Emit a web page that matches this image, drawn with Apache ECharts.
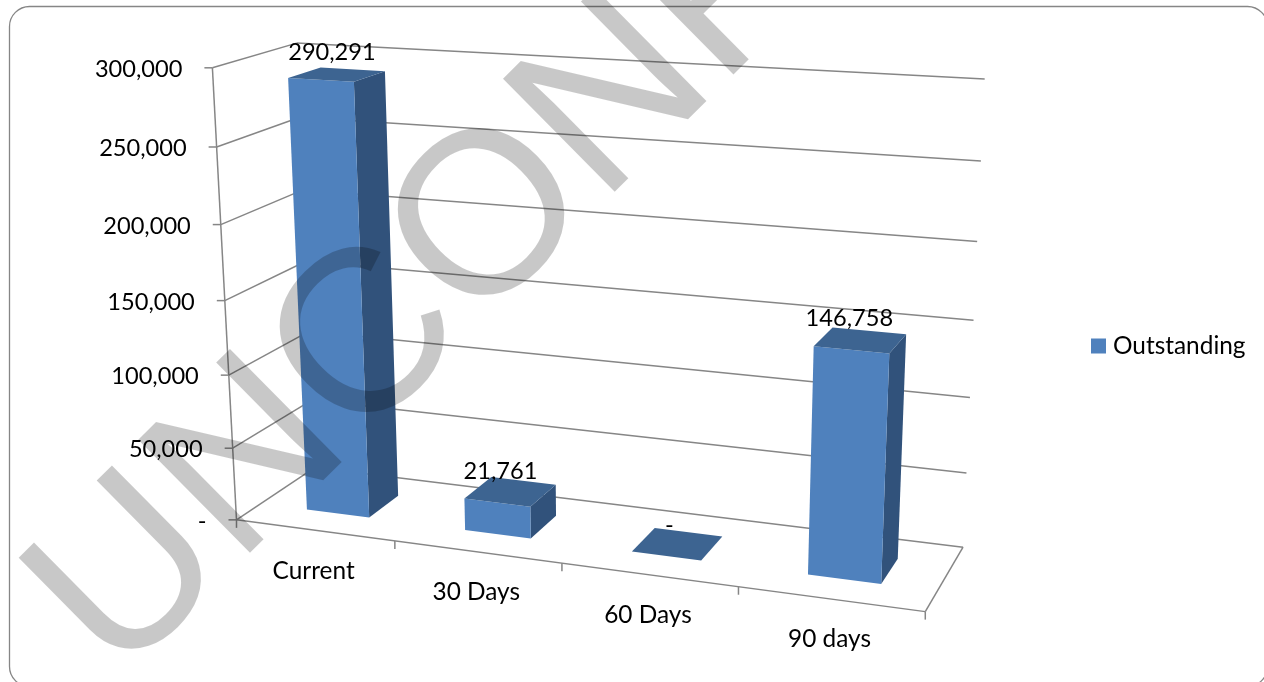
<!DOCTYPE html>
<html>
<head>
<meta charset="utf-8">
<style>html,body{margin:0;padding:0;background:#fff}#chart{width:1264px;height:682px}</style>
<script src="https://cdn.jsdelivr.net/npm/echarts@6/dist/echarts.min.js"></script>
</head>
<body>
<div id="chart"></div>
<script>
// Receivables ageing: outstanding balance by age bucket
const categories = ['Current', '30 Days', '60 Days', '90 days'];
const outstanding = [290291, 21761, 0, 146758];
const valueTicks = [0, 50000, 100000, 150000, 200000, 250000, 300000];
const valueMax = 300000;
const seriesName = 'Outstanding';
const stampWord = 'UNCONFIRMED';

const FONT = '"Lato", "Open Sans", sans-serif';
const NUMBER_FONT = '23.6px ' + FONT;
const WORD_FONT = '24.4px ' + FONT;
const INK = '#000000';
const RULE = '#868686';
const FACE = '#4F81BD';
const SIDE = '#31527B';
const TOP = '#3D6491';

// Bar footprint inside a category slot, as a share of the slot and of the floor depth
const BAR_SHARE = 0.4;
const DEPTH_NEAR = 0.3;
const DEPTH_FAR = 0.7;
// Small per-bar offsets that keep value labels clear of the bar tops
const valueLabelNudge = [[3, -1], [-2, 1], [0, 2], [-3, -1]];

// Box corners on the page, [x, height, depth] -> [px, py], used to calibrate the view
const viewAnchors = [
  [[0, 0, 0], [234.3, 520]],
  [[1, 0, 0], [925, 612]],
  [[0, 0, 1], [317, 467.5]],
  [[1, 0, 1], [963, 546.7]],
  [[0, 1, 0], [215, 67.3]],
  [[0, 1, 1], [294, 43.5]],
  [[1, 1, 1], [985, 79]]
];

// Least-squares camera matrix from the anchors (direct linear transform, m34 = 1)
function solveCamera(anchors) {
  const rows = [], rhs = [];
  anchors.forEach(([[x, y, z], [px, py]]) => {
    const u = px / 1000, v = py / 1000;
    rows.push([x, y, z, 1, 0, 0, 0, 0, -u * x, -u * y, -u * z]); rhs.push(u);
    rows.push([0, 0, 0, 0, x, y, z, 1, -v * x, -v * y, -v * z]); rhs.push(v);
  });
  const n = 11;
  const m = [];
  for (let i = 0; i < n; i++) {
    m.push(new Array(n + 1).fill(0));
    for (let j = 0; j < n; j++) rows.forEach(r => { m[i][j] += r[i] * r[j]; });
    rows.forEach((r, k) => { m[i][n] += r[i] * rhs[k]; });
  }
  for (let i = 0; i < n; i++) {
    let p = i;
    for (let k = i + 1; k < n; k++) if (Math.abs(m[k][i]) > Math.abs(m[p][i])) p = k;
    [m[i], m[p]] = [m[p], m[i]];
    for (let k = 0; k < n; k++) {
      if (k === i) continue;
      const f = m[k][i] / m[i][i];
      for (let j = i; j <= n; j++) m[k][j] -= f * m[i][j];
    }
  }
  return m.map((r, i) => r[n] / r[i]);
}
const cam = solveCamera(viewAnchors);
function project(x, y, z) {
  const w = cam[8] * x + cam[9] * y + cam[10] * z + 1;
  return [
    1000 * (cam[0] * x + cam[1] * y + cam[2] * z + cam[3]) / w,
    1000 * (cam[4] * x + cam[5] * y + cam[6] * z + cam[7]) / w
  ];
}

// The hidden cartesian axes supply the scales; their output is normalised, then projected
function unit(params, api, cat, value) {
  const c = params.coordSys;
  const p = api.coord([cat, value]);
  return { u: (p[0] - c.x) / c.width, h: (c.y + c.height - p[1]) / c.height, band: api.size([1, 0])[0] / c.width };
}
function rule(a, b) {
  return { type: 'line', shape: { x1: a[0], y1: a[1], x2: b[0], y2: b[1] },
    style: { stroke: RULE, lineWidth: 1.5, fill: null } };
}
function label(text, x, y, align, font) {
  return { type: 'text', z2: 50, style: { text, x, y, font: font || NUMBER_FONT, fill: INK,
    textAlign: align || 'center', textVerticalAlign: 'middle' } };
}
function poly(points, fill) {
  return { type: 'polygon', shape: { points }, style: { fill, stroke: null } };
}

function renderWalls(params, api) {
  const v = api.value(0);
  const h = unit(params, api, 0, v).h;
  const front = project(0, h, 0), back = project(0, h, 1), right = project(1, h, 1);
  const text = v === 0 ? '-' : v.toLocaleString('en-US');
  return { type: 'group', children: [
    rule(front, back), rule(back, right),
    rule(front, [front[0] - 8, front[1]]),
    label(text, front[0] - 30, front[1] + 1.5, 'right')
  ] };
}

function renderFloor(params, api) {
  const i = api.value(0);
  const m = unit(params, api, i, 0);
  const edge = project(m.u + m.band / 2, 0, 0);
  const mid = project(m.u, 0, 0);
  const kids = [rule(edge, [edge[0], edge[1] + 8]), label(categories[i], mid[0] - 1, mid[1] + 40.5, 'center', WORD_FONT)];
  if (i === 0) {
    const o = project(0, 0, 0), a = project(1, 0, 0), b = project(1, 0, 1), c = project(0, 1, 0);
    kids.push(rule(o, a), rule(a, b), rule(o, c), rule(o, [o[0], o[1] + 8]));
  }
  return { type: 'group', children: kids };
}

function renderBar(params, api) {
  const i = api.value(0), v = api.value(1);
  const m = unit(params, api, i, v);
  const half = m.band * BAR_SHARE / 2;
  const x0 = m.u - half, x1 = m.u + half;
  const P = (x, y, z) => project(x, y, z);
  const topCentre = P(m.u, m.h, (DEPTH_NEAR + DEPTH_FAR) / 2);
  const nudge = valueLabelNudge[i];
  const kids = [
    poly([P(x1, 0, DEPTH_NEAR), P(x1, 0, DEPTH_FAR), P(x1, m.h, DEPTH_FAR), P(x1, m.h, DEPTH_NEAR)], SIDE),
    poly([P(x0, 0, DEPTH_NEAR), P(x1, 0, DEPTH_NEAR), P(x1, m.h, DEPTH_NEAR), P(x0, m.h, DEPTH_NEAR)], FACE),
    poly([P(x0, m.h, DEPTH_NEAR), P(x1, m.h, DEPTH_NEAR), P(x1, m.h, DEPTH_FAR), P(x0, m.h, DEPTH_FAR)], TOP),
    label(v === 0 ? '-' : v.toLocaleString('en-US'), topCentre[0] - 8 + nudge[0], topCentre[1] - 21 + nudge[1])
  ];
  return { type: 'group', children: kids };
}

const chart = echarts.init(document.getElementById('chart'), null, { renderer: 'canvas' });
chart.setOption({
  animation: false,
  backgroundColor: '#ffffff',
  grid: { left: 200, top: 50, width: 800, height: 500 },
  xAxis: { type: 'category', data: categories, show: false },
  yAxis: { type: 'value', min: 0, max: valueMax, interval: 50000, show: false },
  legend: {
    data: [seriesName], left: 1091, top: 334, orient: 'vertical', icon: 'rect', padding: 0,
    itemWidth: 15, itemHeight: 15, itemGap: 0, selectedMode: false,
    textStyle: { fontFamily: FONT, fontSize: 24.4, color: INK, padding: [0, 0, 0, 2] }
  },
  series: [
    { type: 'custom', name: 'walls', silent: true, z: 1, encode: { y: 0 },
      data: valueTicks.map(v => [v]), renderItem: renderWalls },
    { type: 'custom', name: 'floor', silent: true, z: 2, encode: { x: 0 },
      data: categories.map((c, i) => [i]), renderItem: renderFloor },
    { type: 'custom', name: seriesName, silent: true, z: 3, encode: { x: 0, y: 1 },
      itemStyle: { color: FACE },
      data: outstanding.map((v, i) => [i, v]), renderItem: renderBar }
  ],
  graphic: [
    { type: 'rect', z: 20, silent: true, shape: { x: 9.5, y: 6.5, width: 1258, height: 680, r: 20 },
      style: { fill: null, stroke: RULE, lineWidth: 1.3 } },
    { type: 'text', z: 30, silent: true, x: 73, y: 638, rotation: 0.78,
      style: { text: stampWord, font: '231px "Liberation Sans", Arial, sans-serif',
        fill: 'rgba(0,0,0,0.215)', textAlign: 'left', textVerticalAlign: 'middle' } }
  ]
});
</script>
</body>
</html>
